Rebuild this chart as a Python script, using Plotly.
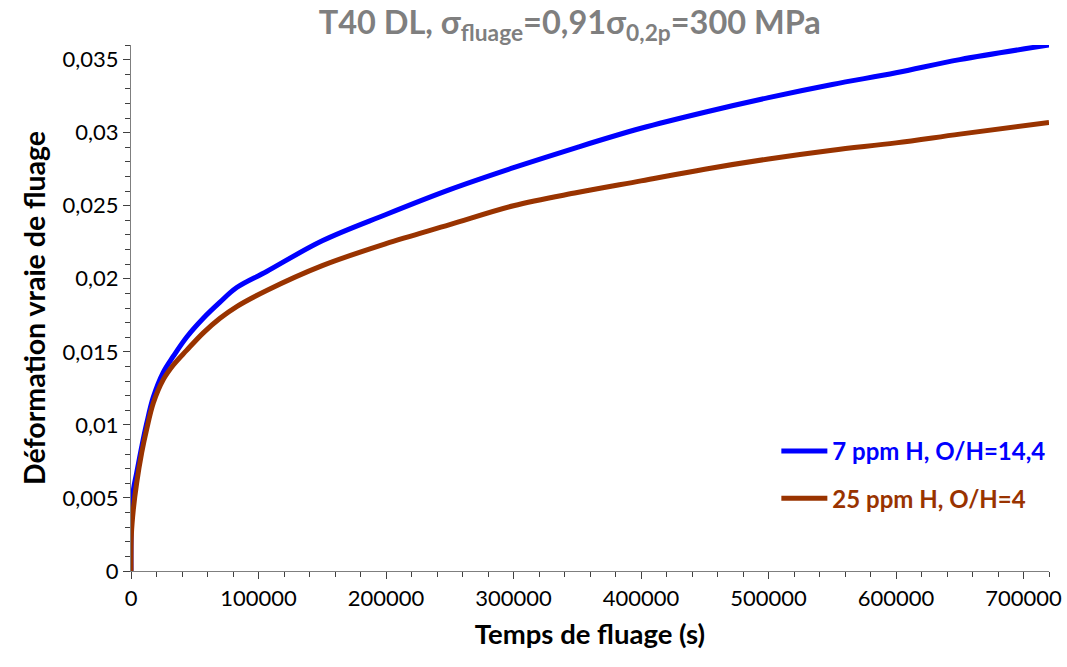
import plotly.graph_objects as go

# Creep time (s)
t_blue = [0, 300, 1800, 4400, 8400, 12300, 17500, 25300, 33200, 43600, 56700, 69800,
          82900, 106400, 150000, 200000, 250000, 300000, 350000, 400000, 450000,
          500000, 550000, 600000, 650000, 720000]
# True creep strain, 7 ppm H, O/H=14,4
eps_blue = [0, 0.0035, 0.0055, 0.0067, 0.0085, 0.0101, 0.0119, 0.0136, 0.0147, 0.0160,
            0.0173, 0.0184, 0.0194, 0.0205, 0.0226, 0.0244, 0.0261, 0.0276, 0.0290,
            0.0303, 0.0314, 0.0324, 0.0333, 0.0341, 0.0350, 0.0360]

t_brown = [0, 300, 1800, 4400, 8400, 12300, 17500, 25300, 33200, 43600, 56700, 69800,
           82900, 106400, 150000, 200000, 250000, 300000, 350000, 400000, 450000,
           500000, 550000, 600000, 650000, 720000]
# True creep strain, 25 ppm H, O/H=4
eps_brown = [0, 0.0025, 0.0042, 0.0060, 0.0081, 0.0097, 0.0115, 0.0131, 0.0141, 0.0151,
             0.0163, 0.0173, 0.0181, 0.0192, 0.0209, 0.0224, 0.0237, 0.0250, 0.0259,
             0.0267, 0.0275, 0.0282, 0.0288, 0.0293, 0.0299, 0.0307]

name_blue = "7 ppm H, O/H=14,4"
name_brown = "25 ppm H, O/H=4"
c_blue = "#0000FF"
c_brown = "#993300"

FONT = "Lato"

fig = go.Figure()
fig.add_trace(go.Scatter(
    x=t_blue, y=eps_blue, mode="lines", line=dict(color=c_blue, width=5, shape="spline"),
    name=f"<b><span style='color:{c_blue}'>{name_blue}</span></b>", legendgroup="a"))
fig.add_trace(go.Scatter(
    x=t_brown, y=eps_brown, mode="lines", line=dict(color=c_brown, width=5, shape="spline"),
    name=f"<b><span style='color:{c_brown}'>{name_brown}</span></b>", legendgroup="b"))

axis_common = dict(
    showline=True, linecolor="#7f7f7f", linewidth=1.2, showgrid=False, zeroline=False,
    ticks="outside", ticklen=7, tickcolor="#404040", tickwidth=1, automargin=False,
    ticklabeloverflow="allow",
    tickfont=dict(family=FONT, size=22, color="black"),
)

fig.update_layout(
    width=1067, height=667,
    paper_bgcolor="white", plot_bgcolor="white",
    margin=dict(l=131, r=18, t=45, b=96, autoexpand=False),
    separators=", ",
    title=dict(
        text="<b>T40 DL, σ<sub>fluage</sub>=0,91σ<sub>0,2p</sub>=300 MPa</b>",
        x=0.534, xanchor="center", y=0.966, yanchor="middle", automargin=False,
        font=dict(family=FONT, size=32.5, color="#7f7f7f")),
    xaxis=dict(
        range=[0, 720000], dtick=100000, tick0=0, tickformat="d",
        minor=dict(dtick=20000, ticks="outside", ticklen=5, tickcolor="#404040"),
        title=dict(text="<b>Temps de fluage (s)</b>", font=dict(family=FONT, size=27.5, color="black"),
                   standoff=15),
        **axis_common),
    yaxis=dict(
        range=[0, 0.036], dtick=0.005, tick0=0,
        minor=dict(dtick=0.001, ticks="outside", ticklen=5, tickcolor="#404040"),
        title=dict(text="<b>Déformation vraie de fluage</b>", font=dict(family=FONT, size=28.5, color="black"),
                   standoff=8),
        **axis_common),
    showlegend=True,
    legend=dict(x=0.703, y=0.27, xanchor="left", yanchor="top",
                bgcolor="rgba(0,0,0,0)", itemwidth=46, tracegroupgap=13,
                font=dict(family=FONT, size=24)),
)

# Remove the default page margin so the figure fills the 1067x667 window exactly.
fig.write_html("out.html",
               config={"displayModeBar": False},
               post_script="document.body.style.margin='0';document.body.style.overflow='hidden';")
